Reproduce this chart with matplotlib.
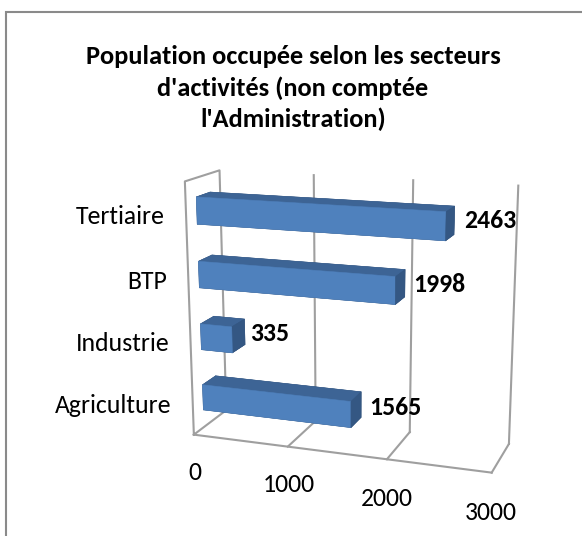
import numpy as np
import matplotlib
matplotlib.use("Agg")
import matplotlib.pyplot as plt
from matplotlib.patches import Rectangle

# ------------------------------ DATA -----------------------------------
categories = ["Agriculture", "Industrie", "BTP", "Tertiaire"]
values = [1565, 335, 1998, 2463]
x_ticks = [0, 1000, 2000, 3000]
title = "Population occupée selon les secteurs\nd'activités (non comptée\nl'Administration)"

# ---------------------------- SETTINGS ---------------------------------
W, H, DPI = 582, 536, 100
FONT = ["Carlito", "Lato", "DejaVu Sans"]
GRID = "#9f9f9f"
FACES = ["#2f4d73", "#3d6495", "#4f81bd", "#2f4d73", "#2f4d73", "#345783"]  # -z,+z,-y,+y,-x,+x
LABEL_SIZE = 18.5
plt.rcParams["font.family"] = FONT

fig = plt.figure(figsize=(W / DPI, H / DPI), dpi=DPI)
fig.patches.append(Rectangle((6 / W, -0.1), 1.2, (H - 12) / H + 0.1, transform=fig.transFigure,
                             fill=False, edgecolor="#8a8a8a", lw=1.5))
fig.text(293 / W, 1 - 88 / H, title, ha="center", va="center", fontsize=19,
         fontweight="bold", linespacing=1.38)

ax = fig.add_axes([0.1, 0.1, 0.8, 0.8], projection="3d")
ax.set_proj_type("persp", focal_length=0.55)
ax.view_init(elev=15, azim=-71)
ax.set_box_aspect((1, 0.255, 0.84))
ax.set_axis_off()

n = len(categories)
zmax = n
depth0, depth = 0.3, 0.4
bar_h = 0.42
zpos = np.arange(n) + 0.5 - bar_h / 2

# walls and floor
lw = 1.5
ax.plot([0, 0, 0, 0, 0], [0, 0, 1, 1, 0], [0, zmax, zmax, 0, 0], color=GRID, lw=lw)
for t in x_ticks[1:]:
    ax.plot([t, t], [1, 1], [0, zmax], color=GRID, lw=lw)
    ax.plot([t, t], [1, 0], [0, 0], color=GRID, lw=lw)
ax.plot([x_ticks[0], x_ticks[-1]], [0, 0], [0, 0], color=GRID, lw=lw)

# bars
ax.bar3d(np.zeros(n), np.full(n, depth0), zpos, values, np.full(n, depth), np.full(n, bar_h),
         color=FACES * n, edgecolor=FACES * n, linewidth=0.4, shade=False)

ax.set_xlim(0, x_ticks[-1])
ax.set_ylim(0, 1)
ax.set_zlim(0, zmax)

# ------------- place the 3D box where the reference has it -------------
ref3d = np.array([[0, 0, zmax], [0, 1, zmax], [3000, 1, zmax], [0, 0, 0], [0, 1, 0],
                  [3000, 1, 0], [3000, 0, 0], [1000, 1, zmax], [2000, 1, zmax],
                  [1000, 0, 0], [2000, 0, 0]], float)
ref_px = np.array([[187, 179], [217, 171], [518, 185], [197, 433], [225, 413],
                   [508, 448], [493, 473], [312, 175], [410, 180], [290, 445], [388, 458]], float)


def project(pts):
    M = ax.get_proj()
    pts = np.atleast_2d(np.asarray(pts, float))
    v4 = M @ np.column_stack([pts, np.ones(len(pts))]).T
    return ax.transData.transform((v4[:2] / v4[3]).T)


pos = ax.get_position()
disp = project(ref3d)
tgt = np.column_stack([ref_px[:, 0], H - ref_px[:, 1]])
A = np.zeros((2 * len(disp), 3))
A[0::2, 0] = disp[:, 0]
A[0::2, 1] = 1
A[1::2, 0] = disp[:, 1]
A[1::2, 2] = 1
k, cx, cy = np.linalg.lstsq(A, tgt.ravel(), rcond=None)[0]
ox, oy = k * pos.x0 * W + cx, k * pos.y0 * H + cy
side = k * pos.width * W
ax.set_position([ox / W, oy / H, side / W, side / H])
ax.get_position()  # refresh the active position before projecting labels

# ------------------------------ LABELS ---------------------------------
for i, (c, v) in enumerate(zip(categories, values)):
    px, py = project([-230, 0, i + 0.45])[0]
    fig.text(px / W, py / H, c, ha="right", va="center", fontsize=LABEL_SIZE)
    px, py = project([v + 130, 0.5, i + 0.55])[0]
    fig.text(px / W, py / H, str(v), ha="left", va="center", fontsize=LABEL_SIZE,
             fontweight="bold")
for t in x_ticks:
    px, py = project([t, 0, -0.63])[0]
    fig.text(px / W, py / H, str(t), ha="center", va="center", fontsize=LABEL_SIZE)

fig.savefig("out.png", dpi=DPI)
